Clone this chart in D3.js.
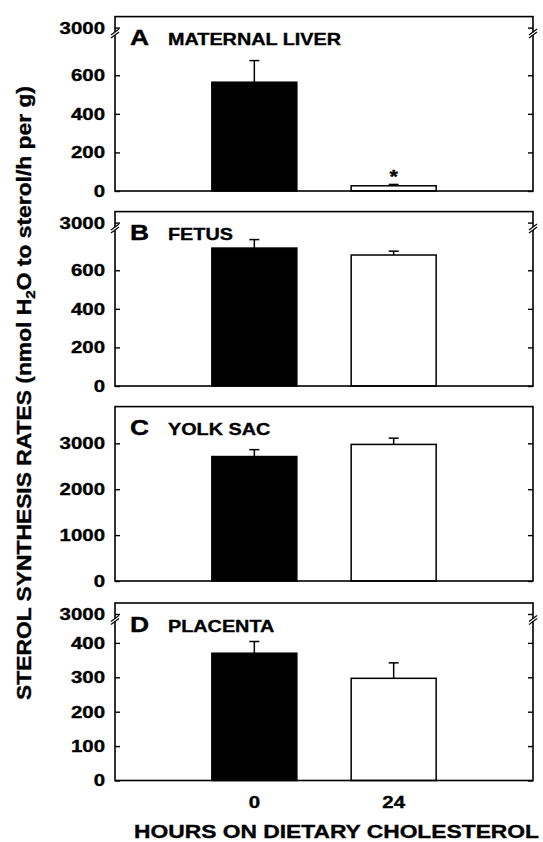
<!DOCTYPE html>
<html>
<head>
<meta charset="utf-8">
<script src="https://d3js.org/d3.v7.min.js"></script>
<style>
  body { margin: 0; background: #fff; }
  svg text { font-family: "Liberation Sans", Arial, sans-serif; font-weight: bold; fill: #000; stroke: #000; stroke-width: 0.35px; }
  .tick line { stroke: #000; stroke-width: 1.4; }
</style>
</head>
<body>
<div id="chart"></div>
<script>
// data
const hours = ["0", "24"];
const panelLetters = ["A", "B", "C", "D"];
const panelNames = ["MATERNAL LIVER", "FETUS", "YOLK SAC", "PLACENTA"];
const meansHour0 = [564, 715, 2712, 370];
const meansHour24 = [27, 679, 2976, 297];
const semHour0 = [112, 44, 150, 34];
const semHour24 = [7, 20, 137, 45];
const significant24 = [true, false, false, false];
const tickLabels = [
  [0, 200, 400, 600, 3000],
  [0, 200, 400, 600, 3000],
  [0, 1000, 2000, 3000],
  [0, 100, 200, 300, 400, 3000]
];
const lowerMax = [790, 790, 3800, 452];   // top of the lower (or only) axis segment
const brokenAxis = [true, true, false, true];

// layout
const W = 543, H = 842;
const left = 115, right = 533;
const panelTop = [16.6, 211.6, 406.6, 603];
const panelH = [174.4, 174.4, 174.4, 177.5];
const widen = 1.2;

const svg = d3.select("#chart").append("svg")
  .attr("width", W).attr("height", H);

const x = d3.scalePoint().domain(hours).range([left, right]).padding(1);
const bw = x.step() * 0.61;

panelLetters.forEach((letter, i) => {
  const h = panelH[i];
  const g = svg.append("g").attr("transform", `translate(0,${panelTop[i]})`);

  const y = brokenAxis[i]
    ? d3.scaleLinear().domain([0, lowerMax[i], 3000]).range([h, 22, 11])
    : d3.scaleLinear().domain([0, lowerMax[i]]).range([h, 0]);

  const rows = hours.map((hr, j) => ({
    hr: hr,
    mean: j === 0 ? meansHour0[i] : meansHour24[i],
    sem: j === 0 ? semHour0[i] : semHour24[i],
    fill: j === 0 ? "#000" : "#fff",
    star: j === 1 && significant24[i]
  }));

  // error bars (upper half only)
  rows.forEach(d => {
    const cx = x(d.hr);
    g.append("line").attr("x1", cx).attr("x2", cx)
      .attr("y1", y(d.mean)).attr("y2", y(d.mean + d.sem))
      .attr("stroke", "#000").attr("stroke-width", 1.5);
    g.append("line").attr("x1", cx - 5).attr("x2", cx + 5)
      .attr("y1", y(d.mean + d.sem)).attr("y2", y(d.mean + d.sem))
      .attr("stroke", "#000").attr("stroke-width", 1.5);
  });

  g.selectAll(".bar").data(rows).enter().append("rect")
    .attr("class", "bar")
    .attr("x", d => x(d.hr) - bw / 2)
    .attr("y", d => y(d.mean))
    .attr("width", bw)
    .attr("height", d => h - y(d.mean))
    .attr("fill", d => d.fill)
    .attr("stroke", "#000").attr("stroke-width", 1.5);

  rows.filter(d => d.star).forEach(d => {
    g.append("text").attr("class", "wide")
      .attr("x", x(d.hr)).attr("y", y(d.mean + d.sem) - 1.5)
      .attr("text-anchor", "middle").style("font-size", "18px")
      .text("*");
  });

  // axes, ticks pointing inward
  const la = g.append("g").attr("transform", `translate(${left},0)`)
    .call(d3.axisLeft(y).tickValues(tickLabels[i]).tickFormat(d3.format("d"))
      .tickSizeInner(-5).tickSizeOuter(0).tickPadding(10));
  la.attr("font-family", null).attr("font-size", null);
  la.select(".domain").remove();
  la.selectAll("text").attr("class", "wide").style("font-size", "17px");

  const ra = g.append("g").attr("transform", `translate(${right},0)`)
    .call(d3.axisRight(y).tickValues(tickLabels[i]).tickSizeInner(-5).tickSizeOuter(0).tickFormat(""));
  ra.select(".domain").remove();

  // frame
  g.append("rect").attr("x", left).attr("y", 0)
    .attr("width", right - left).attr("height", h)
    .attr("fill", "none").attr("stroke", "#000").attr("stroke-width", 1.6);

  // axis break marks
  if (brokenAxis[i]) {
    const yb = (y(lowerMax[i]) + y(3000)) / 2 + 0.5;
    [left, right].forEach(ax => {
      g.append("rect").attr("x", ax - 2).attr("y", yb - 1.5)
        .attr("width", 4).attr("height", 3).attr("fill", "#fff");
      [-1.5, 1.5].forEach(off => {
        g.append("line")
          .attr("x1", ax - 4).attr("y1", yb + off + 3)
          .attr("x2", ax + 4).attr("y2", yb + off - 3)
          .attr("stroke", "#000").attr("stroke-width", 1.2);
      });
    });
  }

  // panel labels
  g.append("text").attr("class", "wide")
    .attr("x", left + 15).attr("y", 28.5)
    .style("font-size", "22px").text(letter);
  g.append("text").attr("class", "wide")
    .attr("x", left + 53).attr("y", 28.5)
    .style("font-size", "16.5px").text(panelNames[i]);
});

// x tick labels under the last panel
const lastBottom = panelTop[3] + panelH[3];
svg.selectAll(".xlab").data(hours).enter().append("text")
  .attr("class", "xlab wide")
  .attr("x", d => x(d)).attr("y", lastBottom + 27)
  .attr("text-anchor", "middle").style("font-size", "17px")
  .text(d => d);

// axis titles
svg.append("text")
  .attr("x", 336.5).attr("y", 838)
  .attr("text-anchor", "middle").style("font-size", "19px")
  .attr("textLength", 405).attr("lengthAdjust", "spacingAndGlyphs")
  .text("HOURS ON DIETARY CHOLESTEROL");

const yt = svg.append("text")
  .attr("transform", "translate(31,393) rotate(-90)")
  .attr("text-anchor", "middle").style("font-size", "19.5px")
  .attr("textLength", 614).attr("lengthAdjust", "spacingAndGlyphs");
yt.append("tspan").text("STEROL SYNTHESIS RATES (nmol H");
yt.append("tspan").attr("baseline-shift", "-30%").style("font-size", "13px").text("2");
yt.append("tspan").text("O to sterol/h per g)");

// the original lettering is wider than Arial: stretch horizontally
svg.selectAll("text.wide").each(function () {
  const w = this.getComputedTextLength();
  d3.select(this).attr("textLength", w * widen).attr("lengthAdjust", "spacingAndGlyphs");
});
</script>
</body>
</html>
